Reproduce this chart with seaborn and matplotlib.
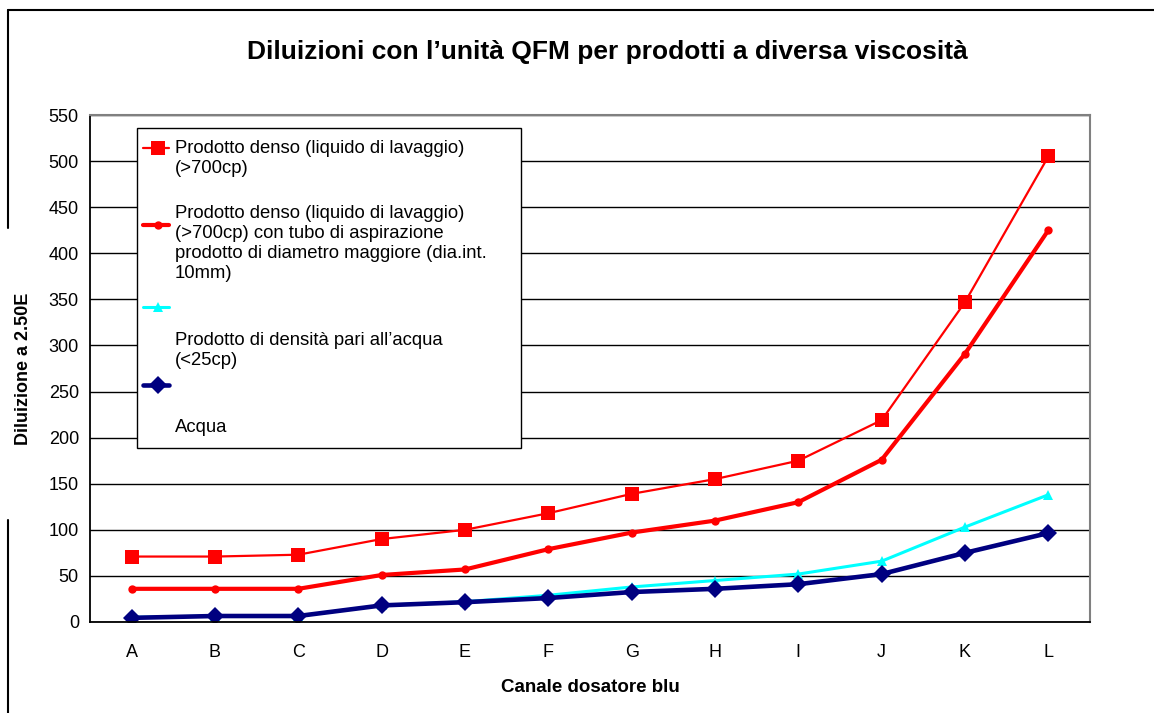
import seaborn as sns
import matplotlib.pyplot as plt
import pandas as pd
from matplotlib.lines import Line2D
from matplotlib.patches import Rectangle

categories = ["A", "B", "C", "D", "E", "F", "G", "H", "I", "J", "K", "L"]
denso = [71, 71, 73, 90, 100, 118, 139, 155, 175, 219, 347, 505]
denso_tubo = [36, 36, 36, 51, 57, 79, 97, 110, 130, 176, 291, 425]
densita_acqua = [5, 6.5, 6.5, 18, 22, 29, 38, 45, 52, 66, 103, 138]
acqua = [4.5, 6.5, 6.5, 18, 21.5, 26, 32.5, 36, 41, 52, 75, 96.5]

W, H = 1154, 713
sns.set_style("white")
plt.rcParams["font.family"] = ["Liberation Sans", "DejaVu Sans"]
plt.rcParams["text.color"] = "black"
plt.rcParams["xtick.color"] = "black"
plt.rcParams["ytick.color"] = "black"
plt.rcParams["axes.labelcolor"] = "black"

fig = plt.figure(figsize=(W / 100, H / 100), dpi=100)
ax = fig.add_axes([90 / W, 1 - 622 / H, 1000 / W, 507 / H])

def fx(px):
    return px / W

def fy(py):
    return 1 - py / H

df = pd.DataFrame({"canale": categories, "denso": denso, "tubo": denso_tubo,
                   "dens": densita_acqua, "acqua": acqua})

styles = [
    ("denso", "#FF0000", 1.6, "s", 9.5),
    ("tubo", "#FF0000", 3.0, "o", 6),
    ("dens", "#00FFFF", 2.2, "^", 7),
    ("acqua", "#000080", 3.3, "D", 9),
]
for col, color, lw, mk, ms in styles:
    sns.lineplot(data=df, x="canale", y=col, ax=ax, color=color, linewidth=lw,
                 marker=mk, markersize=ms, markeredgewidth=0, sort=False)

ax.set_xlim(-0.5, len(categories) - 0.5)
ax.set_ylim(0, 550)
ax.set_yticks(range(0, 551, 50))
ax.yaxis.grid(True, color="black", linewidth=1)
ax.set_axisbelow(True)

ax.set_xticks([i - 0.5 for i in range(len(categories) + 1)])
ax.set_xticklabels([])
ax.set_xticks(range(len(categories)), minor=True)
ax.set_xticklabels(categories, minor=True)
ax.tick_params(axis="x", which="major", direction="out", length=6, width=1, color="black")
ax.tick_params(axis="x", which="minor", length=0, pad=16, labelsize=13)
ax.tick_params(axis="y", direction="out", length=5, width=1, color="black", labelsize=13, pad=3)

for side in ["left", "bottom"]:
    ax.spines[side].set_color("black")
    ax.spines[side].set_linewidth(1.3)
for side in ["top", "right"]:
    ax.spines[side].set_color("#808080")
    ax.spines[side].set_linewidth(1.5)

ax.set_xlabel("Canale dosatore blu", fontsize=13.5, fontweight="bold", labelpad=13)
ax.set_ylabel("Diluizione a 2.50E", fontsize=13, fontweight="bold", labelpad=12)

fig.text(fx(607), fy(52), "Diluizioni con l\u2019unit\u00e0 QFM per prodotti a diversa viscosit\u00e0",
         ha="center", va="center", fontsize=19, fontweight="bold")

# legend box drawn by hand to keep the original arrangement
fig.add_artist(Rectangle((fx(137), fy(448)), fx(521) - fx(137), fy(128) - fy(448),
                         transform=fig.transFigure, facecolor="white", edgecolor="black",
                         linewidth=1, zorder=5))
handle_rows = [(148, 0), (225, 1), (307, 2), (385, 3)]
for py, i in handle_rows:
    col, color, lw, mk, ms = styles[i]
    fig.add_artist(Line2D([fx(143), fx(158), fx(169)], [fy(py)] * 3, transform=fig.transFigure,
                          color=color, linewidth=lw, marker=mk, markersize=ms,
                          markeredgewidth=0, markevery=[1], zorder=6))
legend_texts = [
    (148, "Prodotto denso (liquido di lavaggio)\n(>700cp)"),
    (213, "Prodotto denso (liquido di lavaggio)\n(>700cp) con tubo di aspirazione\n"
          "prodotto di diametro maggiore (dia.int.\n10mm)"),
    (340, "Prodotto di densit\u00e0 pari all\u2019acqua\n(<25cp)"),
    (427, "Acqua"),
]
for py, txt in legend_texts:
    fig.text(fx(175), fy(py - 8), txt, ha="left", va="top", fontsize=13.3,
             linespacing=1.24, zorder=7)

# outer chart frame (top and left edges)
fig.add_artist(Line2D([fx(8), fx(W)], [fy(10), fy(10)], transform=fig.transFigure,
                      color="black", linewidth=1.5))
fig.add_artist(Line2D([fx(8), fx(8)], [fy(10), fy(228)], transform=fig.transFigure,
                      color="black", linewidth=1.5))
fig.add_artist(Line2D([fx(8), fx(8)], [fy(520), fy(H)], transform=fig.transFigure,
                      color="black", linewidth=1.5))

fig.savefig("out.png", dpi=100)
